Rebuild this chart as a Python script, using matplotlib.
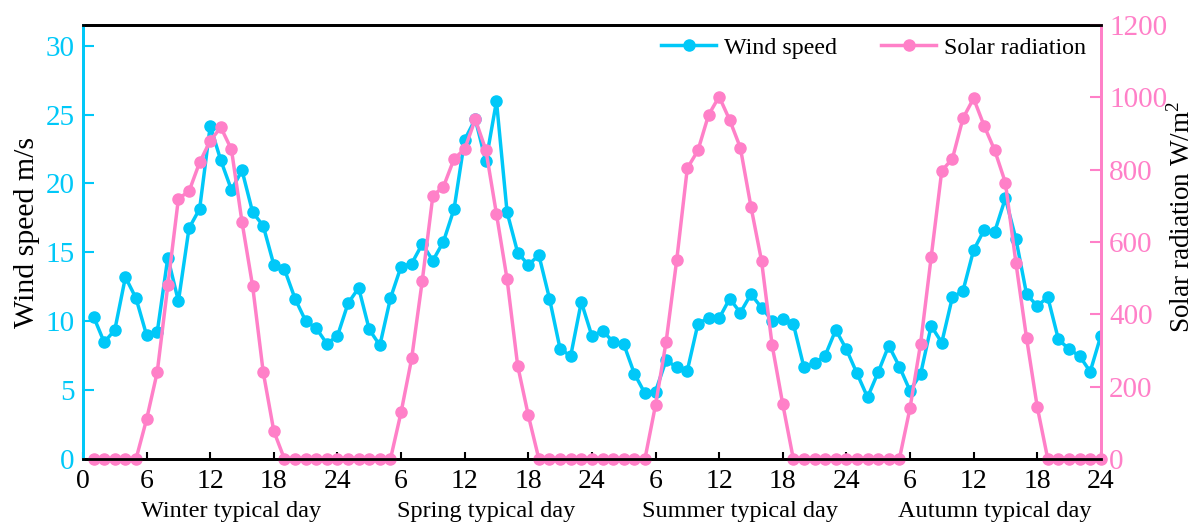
import matplotlib
matplotlib.use("Agg")
import matplotlib.pyplot as plt
import matplotlib.transforms as mtransforms
import numpy as np

plt.rcParams['font.family'] = ['Liberation Serif', 'DejaVu Serif']
plt.rcParams['mathtext.fontset'] = 'custom'
plt.rcParams['mathtext.rm'] = 'Liberation Serif'

hours = list(range(1, 97))

wind_speed = [
    10.33, 8.47, 9.37, 13.2, 11.67, 8.98, 9.2, 14.62, 11.45, 16.75, 18.15, 24.18,
    21.67, 19.54, 20.94, 17.91, 16.92, 14.09, 13.77, 11.64, 10.02, 9.49, 8.37, 8.93,
    11.3, 12.42, 9.4, 8.25, 11.67, 13.97, 14.18, 15.61, 14.4, 15.78, 18.15, 23.17,
    24.67, 21.6, 25.97, 17.91, 14.98, 14.09, 14.79, 11.64, 7.99, 7.48, 11.4, 8.93,
    9.3, 8.52, 8.35, 6.2, 4.77, 4.9, 7.17, 6.66, 6.42, 9.8, 10.26, 10.21,
    11.64, 10.62, 11.96, 10.99, 10.05, 10.17, 9.8, 6.66, 6.95, 7.5, 9.37, 7.97,
    6.22, 4.48, 6.3, 8.23, 6.71, 4.96, 6.15, 9.66, 8.45, 11.74, 12.2, 15.15,
    16.63, 16.51, 18.93, 15.95, 11.96, 11.11, 11.74, 8.69, 7.97, 7.48, 6.34, 8.93,
]

solar_radiation = [
    0, 0, 0, 0, 0, 110, 240, 480, 720, 740, 820, 880,
    917, 856, 655, 478, 240, 77, 0, 0, 0, 0, 0, 0,
    0, 0, 0, 0, 0, 129, 278, 493, 728, 753, 830, 857,
    939, 854, 677, 497, 258, 121, 0, 0, 0, 0, 0, 0,
    0, 0, 0, 0, 0, 149, 324, 550, 804, 853, 951, 1002,
    937, 861, 698, 548, 315, 152, 0, 0, 0, 0, 0, 0,
    0, 0, 0, 0, 0, 140, 318, 558, 797, 830, 942, 997,
    921, 853, 764, 541, 334, 145, 0, 0, 0, 0, 0, 0,
]

tick_positions = list(range(0, 97, 6))
tick_labels = ["0", "6", "12", "18", "24", "6", "12", "18", "24",
               "6", "12", "18", "24", "6", "12", "18", "24"]
day_labels = ["Winter typical day", "Spring typical day",
              "Summer typical day", "Autumn typical day"]
day_label_x = [14, 38, 62, 86]

blue = '#00C8F8'
pink = '#FF80C8'

fig = plt.figure(figsize=(11.96, 5.27), dpi=100)
ax = fig.add_axes([0.0694, 0.129, 0.851, 0.8236])
ax2 = ax.twinx()

l1, = ax.plot(hours, wind_speed, color=blue, lw=2.5, marker='o', ms=8,
              label='Wind speed')
l2, = ax2.plot(hours, solar_radiation, color=pink, lw=2.5, marker='o', ms=8,
               label='Solar radiation', clip_on=False)

ax.set_xlim(0, 96)
ax.set_ylim(0, 31.5)
ax2.set_ylim(0, 1200)

ax.set_xticks(tick_positions)
ax.set_xticklabels(tick_labels, fontsize=20)
ax.set_yticks([0, 5, 10, 15, 20, 25, 30])
ax2.set_yticks([0, 200, 400, 600, 800, 1000, 1200])

ax.tick_params(axis='x', direction='in', length=5, width=1.5, pad=7, colors='black')
ax.tick_params(axis='y', direction='in', length=8, width=1.5, colors=blue,
               labelsize=21, pad=6)
ax2.tick_params(axis='y', direction='in', length=8, width=1.5, colors=pink,
                labelsize=21, pad=6)

for a in (ax, ax2):
    a.spines['left'].set_color(blue)
    a.spines['left'].set_linewidth(2)
    a.spines['right'].set_color(pink)
    a.spines['right'].set_linewidth(2)
    a.spines['top'].set_color('black')
    a.spines['top'].set_linewidth(2)
    a.spines['bottom'].set_color('black')
    a.spines['bottom'].set_linewidth(2)

ax.set_ylabel('Wind speed m/s', fontsize=21.5, color='black')
ax.yaxis.set_label_coords(-0.042, 0.523)
ax2.set_ylabel('Solar radiation W/m$^2$', fontsize=19.5, color='black')
ax2.yaxis.set_label_coords(1.066, 0.557)

trans = mtransforms.blended_transform_factory(ax.transData, ax.transAxes)
for x, lab in zip(day_label_x, day_labels):
    ax.text(x, -0.122, lab, transform=trans, ha='center', va='center', fontsize=17.5)

ax2.legend([l1, l2], ['Wind speed', 'Solar radiation'], loc='upper right',
           ncol=2, frameon=False, fontsize=17.3, handlelength=2.3,
           columnspacing=1.85, handletextpad=0.3, borderaxespad=0.1,
           bbox_to_anchor=(0.997, 1.0))

fig.savefig('out.png', dpi=100)
